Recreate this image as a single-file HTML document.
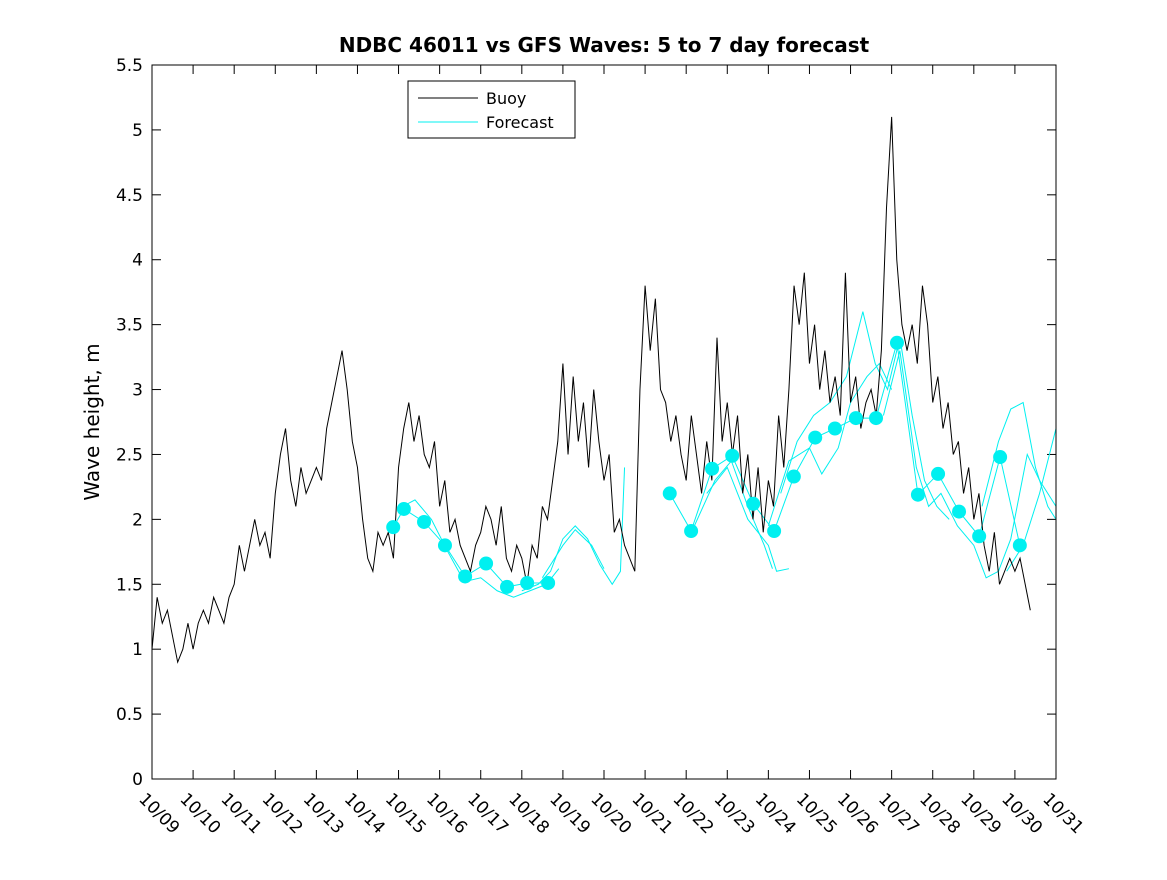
<!DOCTYPE html>
<html><head><meta charset="utf-8"><style>
body{margin:0;background:#fff;}
svg text{font-family:"DejaVu Sans","Liberation Sans",sans-serif;}
</style></head><body>
<svg id="chart" width="1167" height="875" xmlns="http://www.w3.org/2000/svg">
<rect width="1167" height="875" fill="#fff"/>
<text x="604" y="52" text-anchor="middle" font-size="20" font-weight="bold">NDBC 46011 vs GFS Waves: 5 to 7 day forecast</text>
<text transform="translate(99,422) rotate(-90)" text-anchor="middle" font-size="20">Wave height, m</text>
<g id="axes"></g><g id="series"></g>
<rect x="152" y="65" width="904" height="714" fill="none" stroke="#000" stroke-width="1"/>
<g>
<rect x="408" y="81" width="167" height="57" fill="#fff" stroke="#000"/>
<line x1="418" y1="98" x2="478" y2="98" stroke="#000"/>
<text x="486" y="104" font-size="16">Buoy</text>
<line x1="418" y1="122" x2="478" y2="122" stroke="#00f0f0"/>
<text x="486" y="128" font-size="16">Forecast</text>
</g>
</svg>
<script>
const xTicks=["10/09","10/10","10/11","10/12","10/13","10/14","10/15","10/16","10/17","10/18","10/19","10/20","10/21","10/22","10/23","10/24","10/25","10/26","10/27","10/28","10/29","10/30","10/31"];
const yTicks=[0,0.5,1,1.5,2,2.5,3,3.5,4,4.5,5,5.5];
// buoy values every 3h from 10/09 00:00
const buoy=[1.0,1.4,1.2,1.3,1.1,0.9,1.0,1.2,
1.0,1.2,1.3,1.2,1.4,1.3,1.2,1.4,
1.5,1.8,1.6,1.8,2.0,1.8,1.9,1.7,
2.2,2.5,2.7,2.3,2.1,2.4,2.2,2.3,
2.4,2.3,2.7,2.9,3.1,3.3,3.0,2.6,
2.4,2.0,1.7,1.6,1.9,1.8,1.9,1.7,
2.4,2.7,2.9,2.6,2.8,2.5,2.4,2.6,
2.1,2.3,1.9,2.0,1.8,1.7,1.6,1.8,
1.9,2.1,2.0,1.8,2.1,1.7,1.6,1.8,
1.7,1.5,1.8,1.7,2.1,2.0,2.3,2.6,
3.2,2.5,3.1,2.6,2.9,2.4,3.0,2.6,
2.3,2.5,1.9,2.0,1.8,1.7,1.6,3.0,
3.8,3.3,3.7,3.0,2.9,2.6,2.8,2.5,
2.3,2.8,2.5,2.2,2.6,2.3,3.4,2.6,
2.9,2.5,2.8,2.2,2.5,2.0,2.4,1.9,
2.3,2.1,2.8,2.4,3.0,3.8,3.5,3.9,
3.2,3.5,3.0,3.3,2.9,3.1,2.8,3.9,
2.9,3.1,2.7,2.9,3.0,2.8,3.3,4.4,
5.1,4.0,3.5,3.3,3.5,3.2,3.8,3.5,
2.9,3.1,2.7,2.9,2.5,2.6,2.2,2.4,
2.0,2.2,1.8,1.6,1.9,1.5,1.6,1.7,
1.6,1.7,1.5,1.3];
const markerDays=[5.87,6.13,6.62,7.13,7.62,8.13,8.64,9.13,9.64,12.6,13.12,13.63,14.12,14.63,15.14,15.62,16.14,16.62,17.13,17.62,18.13,18.64,19.13,19.64,20.13,20.64,21.12];
const markerVals=[1.94,2.08,1.98,1.8,1.56,1.66,1.48,1.51,1.51,2.2,1.91,2.39,2.49,2.12,1.91,2.33,2.63,2.7,2.78,2.78,3.36,2.19,2.35,2.06,1.87,2.48,1.8];
const fc1=[[5.87,1.94],[6.13,2.08],[6.62,1.98],[7.13,1.8],[7.62,1.56],[8.13,1.66],[8.64,1.48],[9.13,1.51],[9.64,1.51]];
const fc2=[[6.1,2.1],[6.4,2.15],[6.8,2.0],[7.2,1.75],[7.6,1.52],[8.0,1.55],[8.4,1.45],[8.8,1.4],[9.2,1.45],[9.6,1.5],[9.9,1.62]];
const fc3=[[9.0,1.45],[9.4,1.5],[9.7,1.6],[10.0,1.85],[10.3,1.95],[10.6,1.85],[10.9,1.65],[11.2,1.5],[11.4,1.6],[11.5,2.4]];
const fc4=[[9.5,1.55],[10.0,1.8],[10.3,1.92],[10.7,1.8],[11.0,1.62]];
const fc5=[[12.6,2.2],[13.12,1.91],[13.63,2.39],[14.12,2.49],[14.63,2.12],[15.14,1.91],[15.62,2.33],[16.14,2.63],[16.62,2.7],[17.13,2.78],[17.62,2.78],[18.13,3.36],[18.64,2.19],[19.13,2.35],[19.64,2.06],[20.13,1.87],[20.64,2.48],[21.12,1.8]];
const fc6=[[13.2,1.95],[13.7,2.3],[14.1,2.45],[14.5,2.1],[14.9,1.8],[15.1,1.62]];
const fc7=[[13.5,2.2],[14.0,2.4],[14.5,2.0],[15.0,1.8],[15.2,1.6],[15.5,1.62]];
const fc8=[[15.0,1.95],[15.5,2.45],[16.0,2.55],[16.3,2.35],[16.7,2.55],[17.0,2.9],[17.4,3.1],[17.7,3.2],[18.0,3.0]];
const fc9=[[15.3,2.2],[15.7,2.6],[16.1,2.8],[16.5,2.9],[16.9,3.1],[17.3,3.6],[17.6,3.2],[17.9,3.0],[18.2,3.4],[18.5,2.8],[18.8,2.3],[19.1,2.1],[19.4,2.0]];
const fc10=[[17.8,2.8],[18.2,3.3],[18.6,2.4],[18.9,2.1],[19.2,2.2],[19.6,1.95],[20.0,1.8],[20.3,1.55],[20.6,1.6],[20.9,1.85],[21.3,2.5],[21.6,2.3],[22,2.1]];
const fc11=[[20.2,2.1],[20.6,2.6],[20.9,2.85],[21.2,2.9],[21.5,2.4],[21.8,2.1],[22,2.0]];
const fc12=[[20.8,1.6],[21.2,1.8],[21.6,2.2],[22,2.7]];
const forecasts=[fc1,fc2,fc3,fc4,fc5,fc6,fc7,fc8,fc9,fc10,fc11,fc12];

const X0=152,X1=1056,Y0=779,Y1=65;
const xs=d=>X0+(X1-X0)*d/22;
const ys=v=>Y0-(Y0-Y1)*v/5.5;
const NS="http://www.w3.org/2000/svg";
const axes=document.getElementById('axes'),ser=document.getElementById('series');
function mk(tag,attrs,parent){const e=document.createElementNS(NS,tag);for(const k in attrs)e.setAttribute(k,attrs[k]);parent.appendChild(e);return e;}
yTicks.forEach(v=>{
  const y=ys(v);
  mk('line',{x1:X0,x2:X0+9,y1:y,y2:y,stroke:'#000'},axes);
  mk('line',{x1:X1-9,x2:X1,y1:y,y2:y,stroke:'#000'},axes);
  const t=mk('text',{x:X0-9,y:y+6,'text-anchor':'end','font-size':'17'},axes);
  t.textContent=String(v);
  
  
});
xTicks.forEach((s,i)=>{
  const x=xs(i);
  mk('line',{x1:x,x2:x,y1:Y0,y2:Y0-9,stroke:'#000'},axes);
  mk('line',{x1:x,x2:x,y1:Y1,y2:Y1+9,stroke:'#000'},axes);
  const t=mk('text',{x:0,y:0,'font-size':'17',transform:`translate(${x-14},${Y0+21}) rotate(45)`},axes);
  t.textContent=s;
  
  
});
forecasts.forEach(f=>{
  const p=mk('polyline',{points:f.map(q=>xs(q[0])+','+ys(q[1])).join(' '),fill:'none',stroke:'#00f0f0','stroke-width':'1'},ser);
  
  
});
const bp=mk('polyline',{points:buoy.map((v,i)=>xs(i*0.125)+','+ys(v)).join(' '),fill:'none',stroke:'#000','stroke-width':'1'},ser);


markerDays.forEach((d,i)=>{
  const c=mk('circle',{cx:xs(d),cy:ys(markerVals[i]),r:7,fill:'#00f0f0'},ser);
  
  
});
</script>
</body></html>
